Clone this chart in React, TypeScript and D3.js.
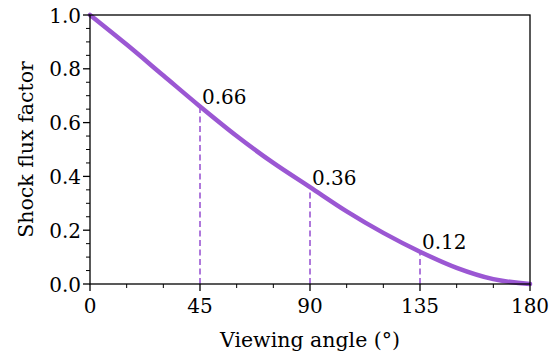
import React from "react";
import * as d3 from "d3";

// viewing angle (deg) vs shock flux factor
const angles = [0, 15, 30, 45, 60, 75, 90, 105, 120, 135, 150, 165, 180];
const flux = [1.0, 0.89, 0.775, 0.66, 0.55, 0.45, 0.36, 0.27, 0.19, 0.12, 0.06, 0.018, 0.0];

const markAngles = [45, 90, 135];
const markValues = [0.66, 0.36, 0.12];

const xTicks = [0, 45, 90, 135, 180];
const yTicks = [0, 0.2, 0.4, 0.6, 0.8, 1.0];

const purple = "#9b57d3";
const font = "DejaVu Serif";
const fs = 20; // tick labels and annotations
const lfs = 20.5; // axis titles

export default function App() {
  const w = 549, h = 356;
  const m = { l: 90, r: 19, t: 15, b: 72 };

  const x = d3.scaleLinear().domain([0, 180]).range([m.l, w - m.r]);
  const y = d3.scaleLinear().domain([0, 1]).range([h - m.b, m.t]);

  const line = d3
    .line<number>()
    .x((d, i) => x(angles[i]))
    .y((d) => y(d))
    .curve(d3.curveMonotoneX);

  const xMinor = d3.range(0, 181, 15).filter((v) => v % 45 !== 0);
  const yMinor = d3.range(0, 21).map((v) => v * 0.05).filter((v, i) => i % 4 !== 0);

  return (
    <svg width={w} height={h} style={{ position: "absolute", left: 0, top: 0 }}>
      <rect width={w} height={h} fill="white" />
      {markAngles.map((a, i) => (
        <g key={a}>
          <line
            x1={x(a)} x2={x(a)} y1={y(0)} y2={y(markValues[i])}
            stroke={purple} strokeWidth={1.6} strokeDasharray="6,3.5"
          />
          <text x={x(a) + 2} y={y(markValues[i]) - 2.5} fontFamily={font} fontSize={fs}>
            {markValues[i].toFixed(2)}
          </text>
        </g>
      ))}
      <path d={line(flux) || ""} fill="none" stroke={purple} strokeWidth={4.5} strokeLinecap="round" />
      <rect
        x={x(0)} y={y(1)} width={x(180) - x(0)} height={y(0) - y(1)}
        fill="none" stroke="black" strokeWidth={1.3}
      />
      {xTicks.map((t) => (
        <g key={t}>
          <line x1={x(t)} x2={x(t)} y1={y(0)} y2={y(0) + 7} stroke="black" strokeWidth={1.3} />
          <text x={x(t)} y={y(0) + 29} textAnchor="middle" fontFamily={font} fontSize={fs}>{t}</text>
        </g>
      ))}
      {xMinor.map((t) => (
        <line key={t} x1={x(t)} x2={x(t)} y1={y(0)} y2={y(0) + 4} stroke="black" strokeWidth={1} />
      ))}
      {yTicks.map((t) => (
        <g key={t}>
          <line x1={x(0) - 7} x2={x(0)} y1={y(t)} y2={y(t)} stroke="black" strokeWidth={1.3} />
          <text x={x(0) - 9} y={y(t) + 7.5} textAnchor="end" fontFamily={font} fontSize={fs}>{t.toFixed(1)}</text>
        </g>
      ))}
      {yMinor.map((t) => (
        <line key={t} x1={x(0) - 4} x2={x(0)} y1={y(t)} y2={y(t)} stroke="black" strokeWidth={1} />
      ))}
      <text x={(x(0) + x(180)) / 2} y={347} textAnchor="middle" fontFamily={font} fontSize={lfs}>
        Viewing angle (°)
      </text>
      <text
        transform={`translate(33,${(y(0) + y(1)) / 2}) rotate(-90)`}
        textAnchor="middle" fontFamily={font} fontSize={lfs}
      >
        Shock flux factor
      </text>
    </svg>
  );
}
